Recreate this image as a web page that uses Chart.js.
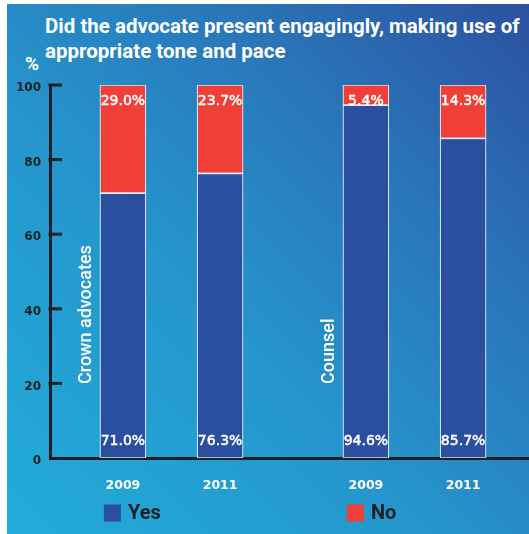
<!DOCTYPE html>
<html>
<head>
<meta charset="utf-8">
<script src="https://cdn.jsdelivr.net/npm/chart.js@4.4.1/dist/chart.umd.min.js"></script>
<style>
  html, body { margin: 0; padding: 0; background: #fff; overflow: hidden; }
  body { width: 529px; height: 534px; position: relative; }
  .panel {
    position: absolute; left: 7px; top: 4px; right: 0; bottom: 0;
    background: linear-gradient(to top right, #22acd9 0%, #2596cd 40%, #2a74b8 72%, #2c50a0 100%);
  }
  .title {
    position: absolute; left: 45px; top: 14px;
    font: bold 20.5px Roboto, sans-serif; line-height: 25px; color: #fff;
    white-space: nowrap;
  }
  .unit {
    position: absolute; left: 25px; top: 52px;
    font: bold 19px Roboto, sans-serif; color: #fff;
  }
  canvas { position: absolute; left: 0; top: 0; }
</style>
</head>
<body>
<div class="panel"></div>
<div class="title">Did the advocate present engagingly, making use of<br>appropriate tone and pace</div>
<div class="unit">%</div>
<canvas id="chart" width="540" height="534"></canvas>
<script>
'use strict';

// Survey results (percent of responses)
const years = ['2009', '2011', '2009', '2011'];
const groups = ['Crown advocates', 'Counsel'];
const yesPct = [71.0, 76.3, 94.6, 85.7];
const noPct = [29.0, 23.7, 5.4, 14.3];
const yTicks = [0, 20, 40, 60, 80, 100];

// Bars sit in a 10-slot category axis so the two groups get a wider gap
const slotCount = 10;
const barSlots = [1, 3, 6, 8];
const groupFirstBar = [0, 2];

const BLUE = '#2a4f9f';
const RED = '#ef3f37';
const INK = '#1c1f26';
const NUM_FONT = 'DejaVu Sans';

function spread(values) {
    const out = new Array(slotCount).fill(null);
    barSlots.forEach((slot, i) => { out[slot] = values[i]; });
    return out;
}

const slotLabels = spread(years).map(l => l || '');

// Short inward tick marks on the y axis
const yTickMarks = {
    id: 'yTickMarks',
    afterDraw(chart) {
        const ctx = chart.ctx;
        const y = chart.scales.y;
        const left = chart.chartArea.left;
        ctx.save();
        ctx.strokeStyle = INK;
        ctx.lineWidth = 3;
        yTicks.forEach(v => {
            if (v === 0) return;
            const py = y.getPixelForValue(v);
            ctx.beginPath();
            ctx.moveTo(left - 1.5, py);
            ctx.lineTo(left + 12, py);
            ctx.stroke();
        });
        ctx.restore();
    }
};

// Percent labels, group names and legend
const annotations = {
    id: 'annotations',
    afterDatasetsDraw(chart) {
        const ctx = chart.ctx;
        const x = chart.scales.x;
        const y = chart.scales.y;
        ctx.save();
        ctx.fillStyle = '#fff';
        ctx.strokeStyle = '#fff';
        ctx.lineWidth = 0.5;
        ctx.font = '14px "' + NUM_FONT + '", sans-serif';
        ctx.textAlign = 'center';
        ctx.textBaseline = 'middle';
        const label = (text, px, py) => {
            ctx.fillText(text, px, py);
            ctx.strokeText(text, px, py); // a little extra weight
        };
        barSlots.forEach((slot, i) => {
            const px = x.getPixelForValue(slot);
            label(noPct[i].toFixed(1) + '%', px, y.getPixelForValue(yesPct[i] + noPct[i]) + 16);
            label(yesPct[i].toFixed(1) + '%', px, y.getPixelForValue(0) - 17);
        });

        // rotated group names beside the first bar of each group
        ctx.font = '500 18px Roboto, sans-serif';
        ctx.textAlign = 'left';
        groups.forEach((name, g) => {
            const px = x.getPixelForValue(barSlots[groupFirstBar[g]]) - 36;
            ctx.save();
            ctx.translate(px, y.getPixelForValue(0) - 74);
            ctx.rotate(-Math.PI / 2);
            ctx.fillText(name, 0, 0);
            ctx.restore();
        });

        // legend, one item under each group
        ctx.font = 'bold 20px Roboto, sans-serif';
        chart.data.datasets.forEach((ds, g) => {
            const px = x.getPixelForValue(barSlots[groupFirstBar[g]]) - 19;
            const py = 513;
            ctx.fillStyle = ds.backgroundColor;
            ctx.fillRect(px, py - 8.5, 17, 17);
            ctx.fillStyle = INK;
            ctx.fillText(ds.label, px + 24, py + 1);
        });
        ctx.restore();
    }
};

new Chart(document.getElementById('chart'), {
    type: 'bar',
    data: {
        labels: slotLabels,
        datasets: [
            {
                label: 'Yes',
                data: spread(yesPct),
                backgroundColor: BLUE,
                borderColor: 'rgba(235, 242, 250, 0.9)',
                borderWidth: 1.2,
                borderSkipped: false,
                barThickness: 46
            },
            {
                label: 'No',
                data: spread(noPct),
                backgroundColor: RED,
                borderColor: 'rgba(235, 242, 250, 0.9)',
                borderWidth: 1.2,
                borderSkipped: false,
                barThickness: 46
            }
        ]
    },
    options: {
        responsive: false,
        animation: false,
        devicePixelRatio: 1,
        layout: { padding: { top: 85, left: 0, right: 4, bottom: 0 } },
        plugins: {
            legend: { display: false },
            tooltip: { enabled: false }
        },
        scales: {
            x: {
                stacked: true,
                grid: { display: false, drawTicks: false },
                border: { display: true, color: INK, width: 3 },
                ticks: {
                    color: '#fff',
                    font: { family: NUM_FONT, size: 12.5, weight: 'bold' },
                    padding: 20,
                    autoSkip: false,
                    maxRotation: 0
                },
                afterFit(scale) { scale.height = 76; }
            },
            y: {
                stacked: true,
                min: 0,
                max: 100,
                grid: { display: false, drawTicks: false },
                border: { display: true, color: INK, width: 3 },
                ticks: {
                    stepSize: 20,
                    color: INK,
                    font: { family: NUM_FONT, size: 12, weight: 'bold' },
                    padding: 9,
                    labelOffset: 3
                },
                afterFit(scale) { scale.width = 50; }
            }
        }
    },
    plugins: [yTickMarks, annotations]
});
</script>
</body>
</html>
